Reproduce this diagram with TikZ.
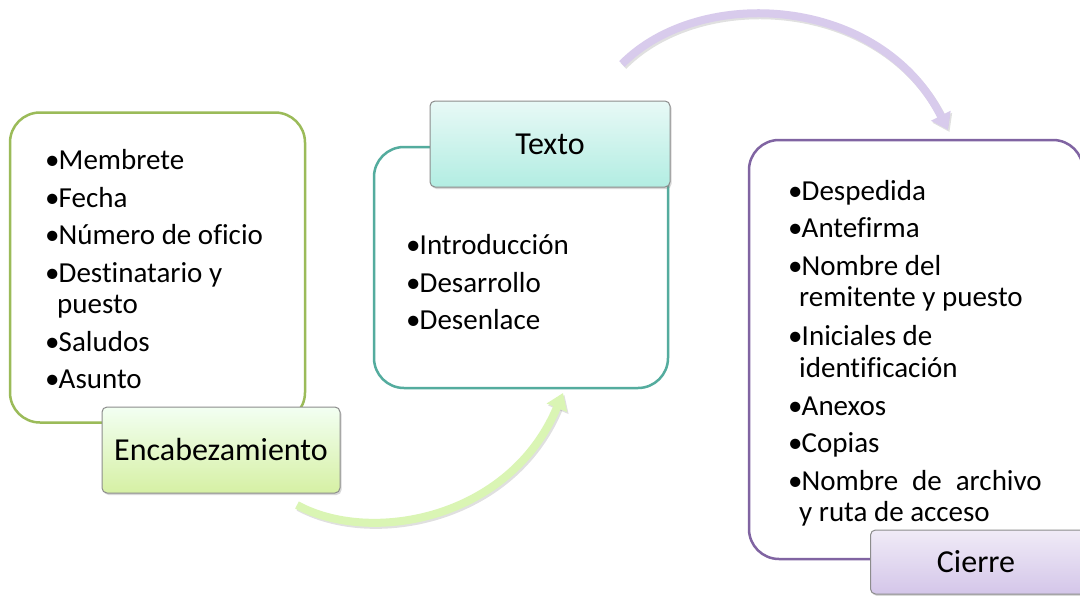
\documentclass[tikz,border=0pt]{standalone}
\usepackage{fontspec}
\setmainfont{Carlito}[Ligatures=NoCommon]
\usetikzlibrary{arrows.meta,shadows}
\definecolor{grn}{RGB}{155,187,89}
\definecolor{tealb}{RGB}{84,172,158}
\definecolor{purp}{RGB}{128,100,162}
\definecolor{garr}{RGB}{218,245,180}
\definecolor{parr}{RGB}{216,203,236}
\newcommand\bul{\makebox[13.5pt][l]{•}}
\tikzset{
  bigbox/.style={draw, line width=2.5pt, rounded corners=30pt, fill=white, inner sep=0},
  lbl/.style={draw=black!45, line width=1pt, rounded corners=5pt, inner sep=0,
              font=\fontsize{32}{34}\selectfont,
              drop shadow={shadow xshift=1.5pt, shadow yshift=-2pt, opacity=0.3}},
  item/.style={anchor=base west, inner sep=0},
  flow/.style={line width=8pt, -{Triangle[width=21pt,length=16pt]}},
  flowshadow/.style={line width=8pt, draw=black, opacity=0.12, -{Triangle[width=21pt,length=16pt]}},
}
\begin{document}
\begin{tikzpicture}[x=1pt,y=-1pt, every node/.style={font=\fontsize{29}{31}\selectfont}]
\useasboundingbox (0,0) rectangle (1080,595);
\clip (0,0) rectangle (1080,595);
\fill[white] (0,0) rectangle (1080,595);

% arrows
\coordinate (g0) at (297,505);
\coordinate (g3) at (563,393);
\coordinate (p0) at (622,64);
\coordinate (p3) at (948,130);
\draw[flowshadow] ([shift={(1.5,2)}]g0) .. controls (371.5,547) and (511.5,522) .. ([shift={(1.5,2)}]g3);
\draw[flowshadow] ([shift={(1.5,2)}]p0) .. controls (701.5,-13) and (881.5,-3) .. ([shift={(1.5,2)}]p3);
\draw[flow, draw=garr] (g0) .. controls (370,545) and (510,520) .. (g3);
\draw[flow, draw=parr] (p0) .. controls (700,-15) and (880,-5) .. (p3);

% Encabezamiento
\node[bigbox, draw=grn, minimum width=295pt, minimum height=310pt] (encbox) at (157.5,267.5) {};
\node[lbl, top color=green!5!white, bottom color={rgb,255:red,214;green,240;blue,164}, minimum width=238pt, minimum height=86pt] (enc) at (221,450) {Encabezamiento};
\node[item] (e1) at (45,169) {\bul Membrete};
\node[item] (e2) at (45,207) {\bul Fecha};
\node[item] (e3) at (45,244.5) {\bul Número de oficio};
\node[item] (e4) at (45,282) {\bul Destinatario y};
\node[item] (e4b) at (57,313) {puesto};
\node[item] (e5) at (45,351) {\bul Saludos};
\node[item] (e6) at (45,388) {\bul Asunto};

% Texto
\node[bigbox, draw=tealb, minimum width=294pt, minimum height=241pt] (txtbox) at (521,267.5) {};
\node[lbl, top color={rgb,255:red,232;green,249;blue,246}, bottom color={rgb,255:red,178;green,237;blue,226}, minimum width=240pt, minimum height=86pt] (txt) at (550,144) {Texto};
\node[item] (t1) at (406,254) {\bul Introducción};
\node[item] (t2) at (406,292) {\bul Desarrollo};
\node[item] (t3) at (406,329) {\bul Desenlace};

% Cierre
\node[bigbox, draw=purp, minimum width=334pt, minimum height=419pt] (cbox) at (916,349.5) {};
\node[lbl, top color={rgb,255:red,240;green,235;blue,247}, bottom color={rgb,255:red,212;green,198;blue,233}, minimum width=217pt, minimum height=64pt] (cie) at (979,562) {\hspace*{-6pt}Cierre};
\node[item] (c1) at (788,200) {\bul Despedida};
\node[item] (c2) at (788,237) {\bul Antefirma};
\node[item] (c3) at (788,275) {\bul Nombre del};
\node[item] (c3b) at (799,306) {remitente y puesto};
\node[item] (c4) at (788,345) {\bul Iniciales de};
\node[item] (c4b) at (799,377) {identificación};
\node[item] (c5) at (788,415) {\bul Anexos};
\node[item] (c6) at (788,452) {\bul Copias};
\node[item] (c7) at (788,490) {\bul\makebox[240pt][s]{Nombre de archivo}};
\node[item] (c7b) at (799,521) {y ruta de acceso};
\end{tikzpicture}
\end{document}
